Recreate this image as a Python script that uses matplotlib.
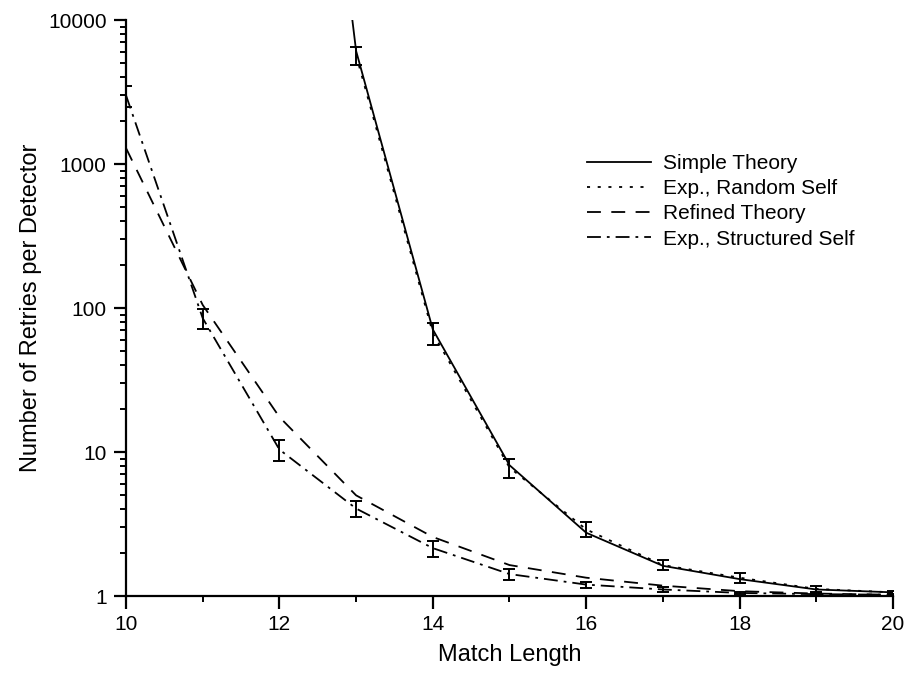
import matplotlib
matplotlib.use("Agg")
import matplotlib.pyplot as plt
from matplotlib.ticker import FixedLocator, NullFormatter, FuncFormatter
import numpy as np

plt.rcParams['font.family'] = ['Liberation Sans', 'DejaVu Sans']
plt.rcParams['lines.scale_dashes'] = False

# Data
simple_x = [12, 13, 14, 15, 16, 17, 18, 19, 20]
simple_y = [1.5e8, 6100, 71, 8.1, 2.75, 1.62, 1.31, 1.11, 1.06]

random_x = [13, 14, 15, 16, 17, 18, 19, 20]
random_y = [5700, 67, 7.8, 2.9, 1.64, 1.34, 1.12, 1.06]
random_err = [800, 12, 1.2, 0.35, 0.13, 0.1, 0.05, 0.03]

refined_x = [10, 11, 12, 13, 14, 15, 16, 17, 18, 19, 20]
refined_y = [1290, 105, 17.5, 5.0, 2.57, 1.64, 1.34, 1.18, 1.08, 1.04, 1.02]

struct_x = [10, 11, 12, 13, 14, 15, 16, 17, 18, 19, 20]
struct_y = [3000, 85, 10.4, 4.05, 2.15, 1.42, 1.2, 1.11, 1.05, 1.03, 1.02]
struct_err = [500, 14, 1.7, 0.5, 0.27, 0.12, 0.06, 0.04, 0.02, 0.02, 0.01]

x_major = [10, 12, 14, 16, 18, 20]
x_minor = [11, 13, 15, 17, 19]
y_major = [1, 10, 100, 1000, 10000]

fig = plt.figure(figsize=(9.08, 6.77), dpi=100)
ax = fig.add_axes([126/908, 1-596/677, (893-126)/908, (596-20)/677])

lw = 1.3
l1, = ax.plot(simple_x, simple_y, color='black', lw=lw, linestyle='-', label='Simple Theory')
l2, = ax.plot(random_x, random_y, color='black', lw=lw, linestyle=(0, (2.2, 5.5)), label='Exp., Random Self')
ax.errorbar(random_x, random_y, yerr=random_err, fmt='none', ecolor='black', elinewidth=1.4, capsize=4.5, capthick=1.4)
l3, = ax.plot(refined_x, refined_y, color='black', lw=lw, linestyle=(0, (10, 7.5)), label='Refined Theory')
l4, = ax.plot(struct_x, struct_y, color='black', lw=lw, linestyle=(0, (10, 4.3, 2, 4.3)), label='Exp., Structured Self')
ax.errorbar(struct_x, struct_y, yerr=struct_err, fmt='none', ecolor='black', elinewidth=1.4, capsize=4.5, capthick=1.4)

ax.set_yscale('log')
ax.set_xlim(10, 20)
ax.set_ylim(1, 10000)

ax.xaxis.set_major_locator(FixedLocator(x_major))
ax.xaxis.set_minor_locator(FixedLocator(x_minor))
ax.yaxis.set_major_locator(FixedLocator(y_major))
minor_y = [m * 10**d for d in range(0, 4) for m in range(2, 10)]
ax.yaxis.set_minor_locator(FixedLocator(minor_y))
ax.yaxis.set_minor_formatter(NullFormatter())
ax.yaxis.set_major_formatter(FuncFormatter(lambda v, p: f"{int(round(v))}"))
ax.xaxis.set_major_formatter(FuncFormatter(lambda v, p: f"{int(round(v))}"))

for s in ['top', 'right']:
    ax.spines[s].set_visible(False)
for s in ['left', 'bottom']:
    ax.spines[s].set_linewidth(1.6)

ax.tick_params(which='major', direction='out', length=9, width=1.6, labelsize=15, pad=5)
ax.tick_params(which='minor', direction='out', length=4.5, width=1.4)

ax.set_xlabel('Match Length', fontsize=17, labelpad=7)
ax.set_ylabel('Number of Retries per Detector', fontsize=17, labelpad=4)

leg = ax.legend(handles=[l1, l2, l3, l4], loc='upper left', bbox_to_anchor=(0.59, 0.782),
                frameon=False, fontsize=15, handlelength=3.1, handletextpad=0.55,
                labelspacing=0.3, borderaxespad=0)

fig.savefig('out.png', dpi=100)
